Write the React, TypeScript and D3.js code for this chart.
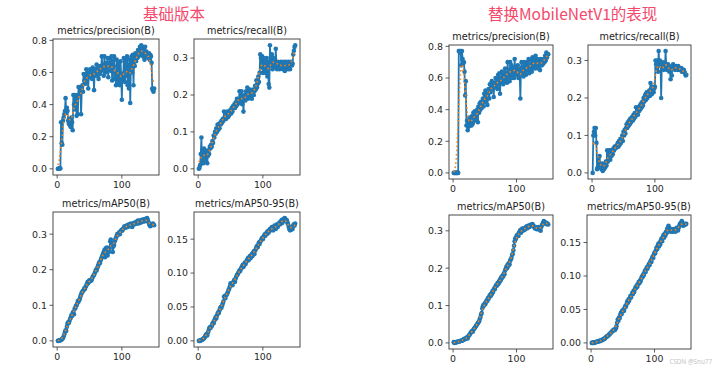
import React from 'react';
import * as d3 from 'd3';

// ---------- text ----------
const groupTitles = ['基础版本', '替换MobileNetV1的表现'];
const metricTitles = ['metrics/precision(B)', 'metrics/recall(B)', 'metrics/mAP50(B)', 'metrics/mAP50-95(B)'];
const watermark = 'CSDN @Snu77';

// ---------- ticks ----------
const xTicks = [0, 100];
const yTicksPrecision = [0, 0.2, 0.4, 0.6, 0.8];
const yTicksRecall = [0, 0.1, 0.2, 0.3];
const yTicksMap50 = [0, 0.1, 0.2, 0.3];
const yTicksMap5095 = [0, 0.05, 0.1, 0.15];

// ---------- baseline model (150 epochs) ----------
const basePrecision = [
  0, 0, 0, 0.005, 0.002, 0.29, 0.16, 0.15, 0.3, 0.32,
  0.34, 0.36, 0.44, 0.35, 0.38, 0.36, 0.3, 0.28, 0.31, 0.27,
  0.26, 0.32, 0.29, 0.24, 0.46, 0.4, 0.46, 0.37, 0.44, 0.33,
  0.46, 0.34, 0.51, 0.45, 0.51, 0.48, 0.34, 0.49, 0.52, 0.48,
  0.59, 0.55, 0.57, 0.53, 0.62, 0.55, 0.6, 0.5, 0.59, 0.57,
  0.62, 0.58, 0.61, 0.56, 0.63, 0.6, 0.49, 0.61, 0.62, 0.58,
  0.65, 0.6, 0.64, 0.56, 0.62, 0.59, 0.64, 0.61, 0.7, 0.62,
  0.65, 0.58, 0.7, 0.63, 0.6, 0.66, 0.61, 0.69, 0.57, 0.66,
  0.64, 0.69, 0.61, 0.7, 0.55, 0.67, 0.6, 0.7, 0.56, 0.58,
  0.52, 0.68, 0.64, 0.53, 0.66, 0.57, 0.52, 0.67, 0.58, 0.43,
  0.59, 0.55, 0.69, 0.6, 0.54, 0.68, 0.58, 0.7, 0.52, 0.65,
  0.5, 0.68, 0.41, 0.65, 0.7, 0.6, 0.71, 0.52, 0.7, 0.64,
  0.72, 0.67, 0.71, 0.69, 0.74, 0.7, 0.73, 0.76, 0.71, 0.77,
  0.72, 0.76, 0.7, 0.74, 0.68, 0.76, 0.71, 0.73, 0.7, 0.71,
  0.69, 0.72, 0.68, 0.71, 0.7, 0.66, 0.5, 0.49, 0.48, 0.5,
];
const baseRecall = [
  0, 0.002, 0.01, 0.04, 0.085, 0.02, 0.045, 0.015, 0.055, 0.03,
  0.05, 0.02, 0.04, 0.015, 0.035, 0.05, 0.04, 0.06, 0.055, 0.065,
  0.06, 0.075, 0.07, 0.09, 0.085, 0.1, 0.095, 0.11, 0.1, 0.12,
  0.105, 0.12, 0.11, 0.125, 0.12, 0.13, 0.125, 0.135, 0.13, 0.155,
  0.14, 0.15, 0.135, 0.145, 0.155, 0.14, 0.15, 0.145, 0.155, 0.16,
  0.15, 0.165, 0.155, 0.17, 0.165, 0.175, 0.165, 0.18, 0.17, 0.19,
  0.175, 0.19, 0.18, 0.21, 0.185, 0.2, 0.21, 0.175, 0.195, 0.155,
  0.19, 0.2, 0.185, 0.21, 0.2, 0.22, 0.19, 0.205, 0.195, 0.215,
  0.2, 0.21, 0.19, 0.205, 0.215, 0.2, 0.21, 0.225, 0.215, 0.24,
  0.22, 0.23, 0.25, 0.235, 0.26, 0.31, 0.3, 0.275, 0.305, 0.26,
  0.3, 0.27, 0.29, 0.26, 0.28, 0.3, 0.25, 0.29, 0.23, 0.22,
  0.335, 0.29, 0.28, 0.31, 0.27, 0.3, 0.28, 0.29, 0.275, 0.325,
  0.28, 0.27, 0.29, 0.275, 0.285, 0.27, 0.28, 0.29, 0.275, 0.285,
  0.27, 0.29, 0.28, 0.265, 0.285, 0.29, 0.275, 0.285, 0.27, 0.29,
  0.28, 0.27, 0.285, 0.29, 0.28, 0.285, 0.31, 0.32, 0.33, 0.335,
];
const baseMap50 = [
  0, 0, 0.001, 0.001, 0.002, 0.003, 0.004, 0.006, 0.008, 0.012,
  0.018, 0.025, 0.03, 0.028, 0.04, 0.048, 0.052, 0.05, 0.056, 0.062,
  0.065, 0.072, 0.07, 0.078, 0.082, 0.075, 0.09, 0.092, 0.098, 0.1,
  0.105, 0.112, 0.11, 0.115, 0.118, 0.125, 0.13, 0.135, 0.138, 0.14,
  0.143, 0.148, 0.146, 0.152, 0.155, 0.16, 0.165, 0.162, 0.168, 0.17,
  0.168, 0.172, 0.17, 0.175, 0.18, 0.183, 0.185, 0.19, 0.195, 0.2,
  0.198, 0.205, 0.21, 0.215, 0.22, 0.218, 0.225, 0.23, 0.235, 0.24,
  0.245, 0.25, 0.255, 0.235, 0.26, 0.248, 0.262, 0.24, 0.255, 0.25,
  0.26, 0.28, 0.285, 0.27, 0.275, 0.25, 0.265, 0.27, 0.28, 0.285,
  0.29, 0.295, 0.3, 0.298, 0.302, 0.305, 0.3, 0.308, 0.31, 0.312,
  0.31, 0.315, 0.318, 0.322, 0.32, 0.318, 0.322, 0.325, 0.32, 0.325,
  0.328, 0.322, 0.325, 0.33, 0.328, 0.32, 0.325, 0.33, 0.332, 0.328,
  0.33, 0.335, 0.33, 0.332, 0.338, 0.33, 0.335, 0.338, 0.332, 0.336,
  0.34, 0.335, 0.338, 0.342, 0.336, 0.34, 0.343, 0.338, 0.345, 0.34,
  0.335, 0.33, 0.325, 0.322, 0.325, 0.328, 0.326, 0.33, 0.327, 0.325,
];
const baseMap5095 = [
  0, 0, 0, 0.001, 0.001, 0.002, 0.002, 0.003, 0.004, 0.005,
  0.007, 0.009, 0.01, 0.008, 0.012, 0.015, 0.018, 0.02, 0.019, 0.021,
  0.022, 0.025, 0.027, 0.026, 0.03, 0.032, 0.035, 0.033, 0.037, 0.04,
  0.042, 0.041, 0.045, 0.048, 0.05, 0.049, 0.052, 0.055, 0.058, 0.065,
  0.066, 0.063, 0.067, 0.068, 0.07, 0.072, 0.075, 0.077, 0.08, 0.085,
  0.083, 0.085, 0.082, 0.086, 0.088, 0.09, 0.087, 0.092, 0.095, 0.097,
  0.098, 0.1, 0.102, 0.104, 0.103, 0.106, 0.108, 0.11, 0.112, 0.109,
  0.112, 0.115, 0.113, 0.116, 0.118, 0.12, 0.122, 0.119, 0.123, 0.125,
  0.122, 0.126, 0.128, 0.125, 0.13, 0.132, 0.128, 0.133, 0.135, 0.138,
  0.14, 0.138, 0.142, 0.145, 0.143, 0.146, 0.148, 0.15, 0.152, 0.15,
  0.153, 0.155, 0.157, 0.155, 0.158, 0.16, 0.158, 0.162, 0.16, 0.163,
  0.165, 0.163, 0.166, 0.168, 0.165, 0.163, 0.167, 0.17, 0.168, 0.165,
  0.17, 0.172, 0.168, 0.171, 0.173, 0.175, 0.172, 0.176, 0.178, 0.174,
  0.177, 0.18, 0.178, 0.181, 0.179, 0.176, 0.178, 0.175, 0.172, 0.168,
  0.165, 0.163, 0.166, 0.164, 0.168, 0.165, 0.17, 0.172, 0.17, 0.173,
];

// ---------- MobileNetV1 backbone (150 epochs) ----------
const mobilePrecision = [
  0, 0, 0, 0, 0, 0, 0, 0, 0.77, 0.77,
  0.76, 0.77, 0.68, 0.77, 0.72, 0.69, 0.7, 0.64, 0.49, 0.58,
  0.3, 0.33, 0.27, 0.29, 0.31, 0.35, 0.3, 0.33, 0.3, 0.36,
  0.31, 0.38, 0.33, 0.39, 0.36, 0.37, 0.34, 0.4, 0.32, 0.42,
  0.38, 0.44, 0.4, 0.45, 0.41, 0.44, 0.47, 0.42, 0.5, 0.45,
  0.52, 0.46, 0.5, 0.43, 0.48, 0.53, 0.47, 0.56, 0.51, 0.55,
  0.58, 0.53, 0.56, 0.48, 0.57, 0.54, 0.6, 0.55, 0.59, 0.53,
  0.62, 0.56, 0.63, 0.5, 0.6, 0.57, 0.64, 0.59, 0.56, 0.62,
  0.58, 0.66, 0.6, 0.63, 0.57, 0.7, 0.61, 0.65, 0.58, 0.7,
  0.62, 0.68, 0.6, 0.64, 0.66, 0.6, 0.72, 0.63, 0.67, 0.62,
  0.65, 0.68, 0.6, 0.64, 0.62, 0.47, 0.66, 0.7, 0.63, 0.67,
  0.61, 0.7, 0.64, 0.68, 0.62, 0.66, 0.7, 0.65, 0.72, 0.63,
  0.68, 0.66, 0.71, 0.64, 0.73, 0.67, 0.7, 0.72, 0.66, 0.74,
  0.7, 0.68, 0.72, 0.66, 0.7, 0.69, 0.65, 0.72, 0.7, 0.68,
  0.71, 0.69, 0.72, 0.7, 0.74, 0.71, 0.76, 0.73, 0.75, 0.75,
];
const mobileRecall = [
  0, 0.1, 0.11, 0.12, 0.1, 0.12, 0.08, 0.01, 0.015, 0.04,
  0.02, 0.045, 0.015, 0.02, 0.01, 0.025, 0.005, 0.015, 0.01, 0.02,
  0.015, 0.03, 0.02, 0.06, 0.03, 0.05, 0.04, 0.06, 0.035, 0.06,
  0.045, 0.06, 0.05, 0.065, 0.06, 0.07, 0.065, 0.07, 0.068, 0.075,
  0.08, 0.07, 0.085, 0.075, 0.09, 0.08, 0.09, 0.1, 0.085, 0.11,
  0.1, 0.115, 0.105, 0.12, 0.13, 0.12, 0.135, 0.125, 0.14, 0.13,
  0.145, 0.135, 0.14, 0.15, 0.14, 0.155, 0.145, 0.16, 0.15, 0.175,
  0.16, 0.17, 0.155, 0.175, 0.165, 0.18, 0.17, 0.185, 0.175, 0.19,
  0.18, 0.2, 0.19, 0.205, 0.21, 0.195, 0.215, 0.2, 0.21, 0.215,
  0.22, 0.205, 0.24, 0.225, 0.21, 0.23, 0.22, 0.215, 0.225, 0.23,
  0.3, 0.29, 0.28, 0.3, 0.27, 0.325, 0.29, 0.3, 0.285, 0.2,
  0.29, 0.28, 0.295, 0.275, 0.29, 0.28, 0.325, 0.29, 0.275, 0.28,
  0.29, 0.285, 0.27, 0.28, 0.25, 0.275, 0.26, 0.285, 0.29, 0.28,
  0.285, 0.275, 0.28, 0.285, 0.28, 0.275, 0.285, 0.28, 0.275, 0.28,
  0.275, 0.28, 0.27, 0.275, 0.27, 0.275, 0.27, 0.265, 0.26, 0.262,
];
const mobileMap50 = [
  0.002, 0, 0.001, 0.001, 0.002, 0.002, 0.003, 0.003, 0.004, 0.004,
  0.005, 0.005, 0.006, 0.006, 0.007, 0.008, 0.01, 0.009, 0.012, 0.011,
  0.013, 0.015, 0.012, 0.018, 0.02, 0.022, 0.025, 0.028, 0.03, 0.032,
  0.03, 0.035, 0.038, 0.04, 0.042, 0.045, 0.048, 0.05, 0.053, 0.055,
  0.058, 0.064, 0.068, 0.076, 0.08, 0.092, 0.098, 0.102, 0.1, 0.106,
  0.104, 0.11, 0.114, 0.112, 0.12, 0.118, 0.124, 0.128, 0.125, 0.132,
  0.13, 0.138, 0.136, 0.143, 0.146, 0.144, 0.152, 0.155, 0.153, 0.16,
  0.157, 0.164, 0.162, 0.17, 0.168, 0.176, 0.174, 0.18, 0.178, 0.186,
  0.184, 0.194, 0.198, 0.204, 0.2, 0.21, 0.206, 0.214, 0.21, 0.22,
  0.224, 0.228, 0.236, 0.238, 0.248, 0.26, 0.272, 0.28, 0.278, 0.286,
  0.288, 0.29, 0.286, 0.295, 0.298, 0.302, 0.295, 0.3, 0.306, 0.3,
  0.302, 0.307, 0.303, 0.306, 0.31, 0.312, 0.307, 0.31, 0.314, 0.31,
  0.312, 0.316, 0.313, 0.316, 0.318, 0.315, 0.312, 0.31, 0.306, 0.31,
  0.307, 0.304, 0.305, 0.308, 0.31, 0.304, 0.302, 0.3, 0.31, 0.315,
  0.318, 0.322, 0.326, 0.323, 0.32, 0.322, 0.318, 0.32, 0.318, 0.317,
];
const mobileMap5095 = [
  0, 0, 0, 0.001, 0, 0.001, 0.001, 0.001, 0.002, 0.002,
  0.002, 0.002, 0.003, 0.003, 0.003, 0.004, 0.004, 0.005, 0.005, 0.006,
  0.006, 0.007, 0.008, 0.009, 0.01, 0.01, 0.011, 0.012, 0.013, 0.014,
  0.015, 0.016, 0.017, 0.018, 0.019, 0.02, 0.019, 0.02, 0.022, 0.025,
  0.03, 0.035, 0.033, 0.038, 0.037, 0.042, 0.045, 0.043, 0.048, 0.047,
  0.05, 0.048, 0.053, 0.055, 0.054, 0.058, 0.062, 0.06, 0.065, 0.063,
  0.067, 0.07, 0.068, 0.072, 0.075, 0.073, 0.078, 0.076, 0.08, 0.083,
  0.082, 0.086, 0.084, 0.088, 0.091, 0.089, 0.093, 0.092, 0.096, 0.099,
  0.098, 0.102, 0.101, 0.105, 0.108, 0.106, 0.11, 0.113, 0.111, 0.115,
  0.118, 0.116, 0.12, 0.123, 0.121, 0.126, 0.129, 0.127, 0.132, 0.135,
  0.134, 0.138, 0.142, 0.14, 0.145, 0.148, 0.144, 0.15, 0.147, 0.153,
  0.156, 0.152, 0.158, 0.161, 0.157, 0.163, 0.16, 0.166, 0.164, 0.17,
  0.172, 0.175, 0.172, 0.168, 0.166, 0.168, 0.17, 0.167, 0.166, 0.168,
  0.17, 0.168, 0.166, 0.169, 0.172, 0.17, 0.168, 0.172, 0.175, 0.178,
  0.176, 0.18, 0.182, 0.178, 0.175, 0.178, 0.176, 0.178, 0.177, 0.178,
];

// ---------- layout (not data) ----------
type Box = { l: number; r: number; t: number; b: number };
const BOXES: Box[][] = [
  [
    { l: 53, r: 159, t: 39, b: 175 },
    { l: 194, r: 300, t: 39, b: 175 },
    { l: 53, r: 159, t: 212, b: 347 },
    { l: 194, r: 300, t: 212, b: 347 },
  ],
  [
    { l: 449, r: 553, t: 45, b: 179 },
    { l: 588, r: 691, t: 45, b: 179 },
    { l: 449, r: 553, t: 215, b: 349 },
    { l: 587, r: 691, t: 215, b: 349 },
  ],
];
const GROUP_TITLE_X = [143, 488];
const BLUE = '#1f77b4';
const ORANGE = '#ff7f0e';
const FONT = 'DejaVu Sans, sans-serif';

// scipy.ndimage.gaussian_filter1d(y, sigma=3), mode='reflect', truncate=4
function gaussianSmooth(y: number[], sigma = 3): number[] {
  const radius = Math.round(4 * sigma);
  const w = d3.range(-radius, radius + 1).map((k) => Math.exp(-0.5 * (k / sigma) ** 2));
  const total = d3.sum(w);
  const n = y.length;
  const idx = (i: number) => {
    while (i < 0 || i >= n) {
      if (i < 0) i = -i - 1;
      if (i >= n) i = 2 * n - i - 1;
    }
    return i;
  };
  return y.map((_, i) => d3.sum(w, (wk, j) => wk * y[idx(i + j - radius)]) / total);
}

type PanelProps = { box: Box; title: string; values: number[]; yTicks: number[]; digits: number };

function Panel({ box, title, values, yTicks, digits }: PanelProps) {
  const smooth = gaussianSmooth(values);
  const epochs = values.map((_, i) => i + 1);
  const [ex0, ex1] = d3.extent(epochs) as [number, number];
  const xm = 0.05 * (ex1 - ex0);
  const x = d3.scaleLinear().domain([ex0 - xm, ex1 + xm]).range([box.l, box.r]);
  const [vy0, vy1] = d3.extent([...values, ...smooth]) as [number, number];
  const ym = 0.05 * (vy1 - vy0);
  const y = d3.scaleLinear().domain([vy0 - ym, vy1 + ym]).range([box.b, box.t]);
  const line = d3
    .line<number>()
    .x((_, i) => x(epochs[i]))
    .y((d) => y(d));
  const fmt = d3.format(`.${digits}f`);
  const cx = (box.l + box.r) / 2;
  return (
    <g>
      <path d={line(values) || ''} fill="none" stroke={BLUE} strokeWidth={1.8} strokeLinejoin="round" />
      {values.map((v, i) => (
        <circle key={i} cx={x(epochs[i])} cy={y(v)} r={2.3} fill={BLUE} />
      ))}
      <path d={line(smooth) || ''} fill="none" stroke={ORANGE} strokeWidth={1.6} strokeDasharray="1.6 2.6" />
      <rect x={box.l} y={box.t} width={box.r - box.l} height={box.b - box.t} fill="none" stroke="#4a4a4a" strokeWidth={1} />
      {xTicks.map((t) => (
        <g key={`x${t}`}>
          <line x1={x(t)} x2={x(t)} y1={box.b} y2={box.b + 3.5} stroke="#333" strokeWidth={0.8} />
          <text x={x(t)} y={box.b + 13} textAnchor="middle" fontSize={9.4} fontFamily={FONT} fill="#262626">
            {t}
          </text>
        </g>
      ))}
      {yTicks.map((t) => (
        <g key={`y${t}`}>
          <line x1={box.l - 3.5} x2={box.l} y1={y(t)} y2={y(t)} stroke="#333" strokeWidth={0.8} />
          <text x={box.l - 6} y={y(t) + 3.4} textAnchor="end" fontSize={9.4} fontFamily={FONT} fill="#262626">
            {fmt(t)}
          </text>
        </g>
      ))}
      <text x={cx} y={box.t - 5.5} textAnchor="middle" fontSize={9.7} fontFamily={FONT} fill="#222">
        {title}
      </text>
    </g>
  );
}

const GROUPS = [
  { values: [basePrecision, baseRecall, baseMap50, baseMap5095] },
  { values: [mobilePrecision, mobileRecall, mobileMap50, mobileMap5095] },
];
const Y_TICKS = [yTicksPrecision, yTicksRecall, yTicksMap50, yTicksMap5095];
const DIGITS = [1, 1, 1, 2];

export default function App() {
  return (
    <svg
      width={720}
      height={370}
      viewBox="0 0 720 370"
      style={{ position: 'absolute', left: 0, top: 0, background: '#fff' }}
    >
      <rect width={720} height={370} fill="#fff" />
      {GROUPS.map((g, gi) => (
        <g key={gi}>
          <text
            x={GROUP_TITLE_X[gi]}
            y={20}
            fontSize={15.5}
            fontFamily="'Noto Sans CJK SC', 'Noto Sans', sans-serif"
            fill="#f5476b"
          >
            {groupTitles[gi]}
          </text>
          {g.values.map((vals, pi) => (
            <Panel
              key={pi}
              box={BOXES[gi][pi]}
              title={metricTitles[pi]}
              values={vals}
              yTicks={Y_TICKS[pi]}
              digits={DIGITS[pi]}
            />
          ))}
        </g>
      ))}
      <text x={712} y={364} textAnchor="end" fontSize={6.3} fontFamily="'Noto Sans', sans-serif" fill="#c4c4c4">
        {watermark}
      </text>
    </svg>
  );
}
